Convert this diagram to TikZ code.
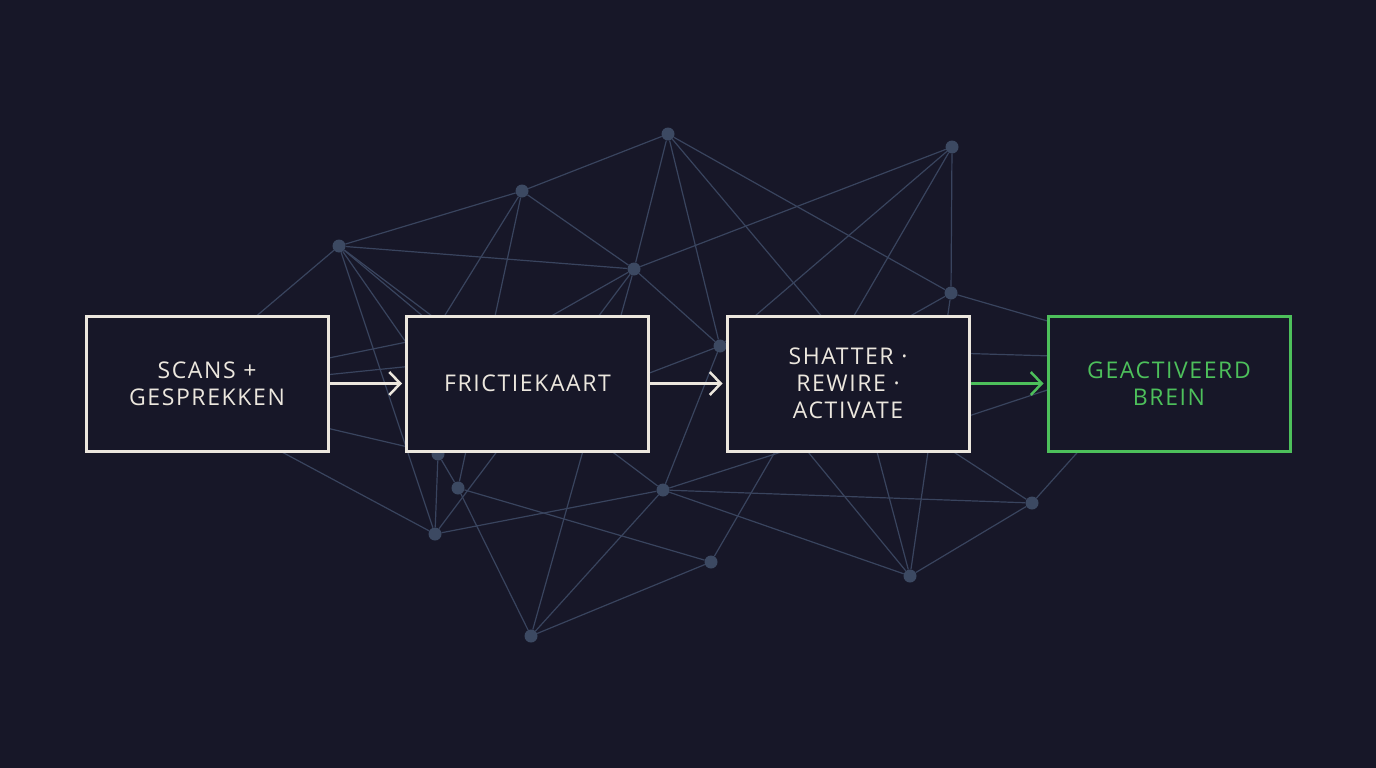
\documentclass[tikz,border=0pt]{standalone}
\usepackage{fontspec}
\setmainfont{Open Sans}
\newfontfamily\boxfont[LetterSpace=7]{Open Sans}
\usetikzlibrary{positioning,arrows.meta}

\definecolor{bgnavy}{HTML}{171728}
\definecolor{netgray}{HTML}{39445E}
\definecolor{dotgray}{HTML}{3C4962}
\definecolor{chalk}{HTML}{ECE7DE}
\definecolor{brightgreen}{HTML}{4DC05B}

\tikzset{
  netline/.style={line width=1.2, color=netgray},
  netdot/.style={circle, fill=dotgray, inner sep=0pt, minimum size=13},
  stepbox/.style={draw=chalk, line width=3, fill=bgnavy, minimum width=242, minimum height=135,
    text=chalk, align=center, font=\boxfont\fontsize{23}{27}\selectfont},
  goalbox/.style={stepbox, draw=brightgreen, text=brightgreen},
  flow/.style={line width=2.5, color=chalk, shorten >=3, -{Straight Barb[length=11, width=23]}},
  goalflow/.style={flow, color=brightgreen}
}

\begin{document}
\begin{tikzpicture}[x=1pt, y=-1pt]
\useasboundingbox (0,0) rectangle (1376,768);
\fill[bgnavy] (0,0) rectangle (1376,768);

% network dots
\node[netdot] (na) at (668,134) {};
\node[netdot] (nb) at (952,147) {};
\node[netdot] (nc) at (522,191) {};
\node[netdot] (nd) at (339,246) {};
\node[netdot] (ne) at (634,269) {};
\node[netdot] (nf) at (951,293) {};
\node[netdot] (ng) at (720,346) {};
\node[netdot] (nh) at (438,454) {};
\node[netdot] (ni) at (458,488) {};
\node[netdot] (nj) at (435,534) {};
\node[netdot] (nk) at (663,490) {};
\node[netdot] (nl) at (531,636) {};
\node[netdot] (nm) at (711,562) {};
\node[netdot] (nn) at (910,576) {};
\node[netdot] (no) at (1032,503) {};

% points hidden behind the boxes
\coordinate (hp) at (168,391);
\coordinate (hq) at (437,328);
\coordinate (hr) at (460,420);
\coordinate (hs) at (495,348);
\coordinate (ht) at (480,327);
\coordinate (hu) at (550,352);
\coordinate (hv) at (850,350);
\coordinate (hw) at (850,430);
\coordinate (hx) at (890,442);
\coordinate (hy) at (790,430);
\coordinate (hz) at (900,417);
\coordinate (k1) at (1120,358);
\coordinate (k2) at (1120,366);
\coordinate (k3) at (1120,342);
\coordinate (k4) at (1110,416);

% network lines
\draw[netline] (na) -- (nc);
\draw[netline] (na) -- (ne);
\draw[netline] (na) -- (ng);
\draw[netline] (na) -- (nf);
\draw[netline] (na) -- (hv);
\draw[netline] (nb) -- (ne);
\draw[netline] (nb) -- (ng);
\draw[netline] (nb) -- (nf);
\draw[netline] (nb) -- (nm);
\draw[netline] (nc) -- (nd);
\draw[netline] (nc) -- (ne);
\draw[netline] (nc) -- (ni);
\draw[netline] (nc) -- (hq);
\draw[netline] (nd) -- (ne);
\draw[netline] (nd) -- (hp);
\draw[netline] (nd) -- (nj);
\draw[netline] (nd) -- (hq);
\draw[netline] (nd) -- (hr);
\draw[netline] (nd) -- (nk);
\draw[netline] (ne) -- (ng);
\draw[netline] (ne) -- (nj);
\draw[netline] (ne) -- (nl);
\draw[netline] (ne) -- (hs);
\draw[netline] (nf) -- (hv);
\draw[netline] (nf) -- (nn);
\draw[netline] (nf) -- (k3);
\draw[netline] (ng) -- (nk);
\draw[netline] (ng) -- (nh);
\draw[netline] (ng) -- (hv);
\draw[netline] (nh) -- (nj);
\draw[netline] (nh) -- (ni);
\draw[netline] (nh) -- (hp);
\draw[netline] (ni) -- (nl);
\draw[netline] (ni) -- (nm);
\draw[netline] (nj) -- (nk);
\draw[netline] (nj) -- (hp);
\draw[netline] (nk) -- (nl);
\draw[netline] (nk) -- (no);
\draw[netline] (nk) -- (nn);
\draw[netline] (nk) -- (hw);
\draw[netline] (nl) -- (nm);
\draw[netline] (nn) -- (no);
\draw[netline] (nn) -- (hv);
\draw[netline] (nn) -- (hy);
\draw[netline] (no) -- (hz);
\draw[netline] (no) -- (k4);
\draw[netline] (hp) -- (ht);
\draw[netline] (hp) -- (hu);
\draw[netline] (hv) -- (k1);
\draw[netline] (hx) -- (k2);

% steps
\node[stepbox] (scans) at (207,383.5) {SCANS +\\GESPREKKEN};
\node[stepbox] (friction) at (527.5,383.5) {FRICTIEKAART};
\node[stepbox] (shatter) at (848,383.5) {SHATTER ·\\REWIRE ·\\ACTIVATE};
\node[goalbox] (brain) at (1169,383.5) {GEACTIVEERD\\BREIN};

\draw[flow] (scans) -- (friction);
\draw[flow] (friction) -- (shatter);
\draw[goalflow] (shatter) -- (brain);
\end{tikzpicture}
\end{document}
